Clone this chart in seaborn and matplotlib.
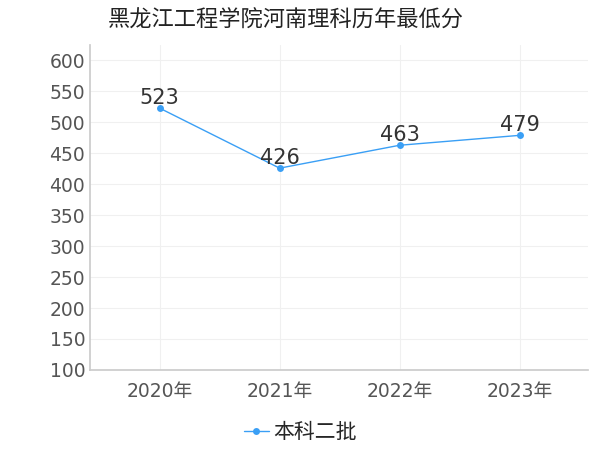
import matplotlib
matplotlib.use("Agg")
import matplotlib.pyplot as plt
import seaborn as sns
import pandas as pd

years = ["2020年", "2021年", "2022年", "2023年"]
scores = [523, 426, 463, 479]
series_name = "本科二批"
title = "黑龙江工程学院河南理科历年最低分"

sns.set_theme(style="white")
plt.rcParams["font.family"] = ["DejaVu Sans", "Noto Sans CJK SC"]

df = pd.DataFrame({"year": range(len(years)), "score": scores})

fig = plt.figure(figsize=(6, 4.5), dpi=100)
ax = fig.add_axes([0.15, 0.178, 0.83, 0.722])

color = "#3a9ff5"
sns.lineplot(data=df, x="year", y="score", ax=ax, color=color, marker="o",
             markersize=5, markeredgewidth=0, linewidth=1, label=series_name, legend=False)
for x, y in zip(df["year"], df["score"]):
    ax.text(x, y + 1, str(y), ha="center", va="bottom", fontsize=15, color="#333333")

ax.set_xlim(-0.58, 3.57)
ax.set_ylim(100, 625)
ax.set_yticks(range(100, 601, 50))
ax.set_xticks(range(len(years)))
ax.set_xticklabels(years)
ax.tick_params(axis="both", labelsize=13.5, colors="#555555", length=0)
ax.tick_params(axis="x", length=5, color="#cccccc")
ax.set_xlabel("")
ax.set_ylabel("")
ax.grid(True, color="#f0f0f0", linewidth=0.8)
for s in ["top", "right"]:
    ax.spines[s].set_visible(False)
for s in ["left", "bottom"]:
    ax.spines[s].set_color("#cccccc")

fig.text(0.18, 0.955, title, fontsize=16, color="#222222", va="center")
handles, labels = ax.get_legend_handles_labels()
fig.legend(handles, labels, loc="center", bbox_to_anchor=(0.5, 0.04), frameon=False,
           fontsize=15, handlelength=1.2, handletextpad=0.2)

fig.savefig("out.png", dpi=100)
